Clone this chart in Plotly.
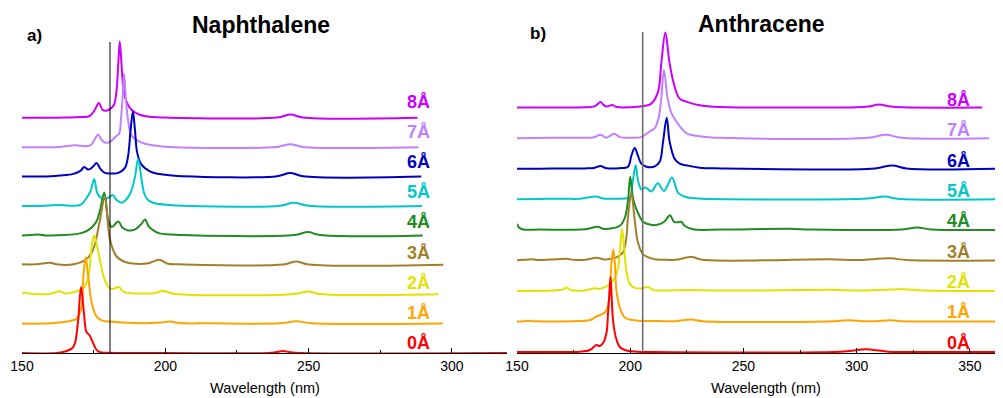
import plotly.graph_objects as go

# ---------------- data ----------------
# Each series: (wavelength in nm, intensity in a.u.) above its own baseline
# Naphthalene (panel a)
nap_0 = [(150, 0), (162, 0), (165.6, 2), (167.6, 5), (168.5, 10), (169.6, 33), (170.6, 66), (171.6, 40),
         (172.5, 21), (173.5, 18), (174.8, 10), (175.8, 4), (177, 1), (180, 0.2), (200, 0), (236, 0),
         (238.5, 0.8), (241, 2), (243.5, 0.8), (247, 0), (319.2, 0)]
nap_1 = [(150, 0), (160, 0.3), (165.6, 2), (169.1, 5), (170.8, 17), (171.4, 47), (172.2, 66), (173.1, 47),
         (174.3, 21), (176, 7), (178, 3), (180.7, 2), (185, 1), (195, 0.5), (198.5, 1), (201.6, 2), (205, 0.5),
         (215, 0.3), (240, 0.3), (245.7, 2.3), (251, 0.3), (296.8, 0)]
nap_2 = [(150, 0.5), (151, 1.5), (153, 0.5), (160, 0.5), (163.2, 3), (165, 0.8), (168, 2), (171.4, 6),
         (173.1, 17), (174.3, 47), (175.2, 59), (176.2, 48), (177.2, 34), (178.9, 14), (180.7, 5.7), (182, 5.5),
         (183.8, 7.3), (185, 3.5), (186.5, 1.3), (190, 0.8), (196, 1), (199.2, 3.3), (203, 0.5), (245, 0.3),
         (249.8, 2.7), (254, 0.3), (295.3, 0)]
nap_3 = [(150, 0.5), (155, 0.5), (159.8, 2), (162, 0.5), (168, 0.5), (172.2, 5), (174.8, 15), (177, 42),
         (178.9, 67), (180.7, 25), (183, 8.3), (186.5, 2.3), (190, 1), (194, 1.5), (197.8, 5), (201, 1),
         (205, 0.5), (241, 0.3), (245.7, 3.3), (250, 0.3), (297, 0)]
nap_4 = [(150, 0), (153, 0.3), (155.1, 1), (158, 0), (165, 0.3), (170.2, 2), (173, 5), (175.8, 13),
         (177.2, 25), (178.7, 43), (180.1, 15), (181.3, 8.3), (183.6, 14), (185, 8), (187, 5), (189.5, 6),
         (191.5, 11), (192.9, 16), (194.2, 9), (195.8, 5), (198, 2), (201.6, 1), (205, 0.3), (245, 0.3),
         (249.8, 3.3), (254, 0.3), (289.8, 0)]
nap_5 = [(150, 0), (158, 0.3), (163.2, 1), (170.4, 1), (172, 6), (173.8, 14), (175.2, 27), (176.4, 12),
         (178.5, 7), (180, 8), (181.6, 11), (183, 6), (184.7, 3.3), (186.5, 7), (188, 14), (189.4, 29),
         (190.5, 47), (191.7, 27), (192.7, 12), (194, 6), (196, 3), (201.6, 1), (206, 0.3), (240, 0.3),
         (244.9, 3.3), (250, 0.3), (289.6, 0)]
nap_6 = [(150, 0), (160, 0.3), (163.2, 1), (167.9, 2.7), (170.5, 6), (171.7, 9.7), (173.1, 7), (174.8, 10),
         (176, 13.7), (177.3, 8), (178.9, 3.7), (181, 3.2), (183.6, 3.7), (185.9, 8.7), (187, 20.3),
         (187.9, 47), (188.7, 65), (189.4, 47), (190.2, 23.7), (191.7, 12), (194.6, 5.3), (198, 2.5),
         (201.6, 1.3), (206, 0.3), (239, 0.3), (243.6, 3.7), (248, 0.3), (289.3, 0)]
nap_7 = [(150, 0), (163.2, 0.3), (168.5, 2), (172, 1), (174, 2), (175.2, 7), (176.6, 12.7), (177.8, 7),
         (178.9, 4.7), (180.7, 5.3), (182.4, 10), (183.9, 13.7), (184.5, 27), (185.1, 50), (185.6, 73.7),
         (186.2, 50), (187, 27), (188.2, 12), (191.1, 5.3), (195.6, 2), (201.6, 0.3), (239, 0.3),
         (243.6, 3), (248, 0.3), (288.3, 0)]
nap_8 = [(150, 0), (165, 0.3), (170.2, 0.7), (173.7, 2), (175.4, 8), (176.8, 14.7), (178.1, 8),
         (179.3, 7), (180.7, 8.7), (182.1, 13), (183, 28), (183.6, 54.7), (184.1, 76.3), (184.7, 54.7),
         (185.3, 31), (186.5, 16), (188.2, 8), (191.1, 3), (195.6, 0.7), (200, 0.2), (239, 0.3),
         (243.7, 3.3), (248, 0.3), (288, 0)]

# Anthracene (panel b)
ant_0 = [(150, 0), (175, 0), (177.8, 0.3), (182.2, 2), (185.1, 7), (186.5, 6), (188, 9), (189.5, 19),
         (190.2, 39), (190.7, 55), (191.3, 75), (191.8, 55), (192.4, 32), (193.6, 15), (195.4, 5),
         (198.3, 1.5), (203, 0.3), (210, 0), (290, 0), (296.7, 1), (304, 2.7), (310, 1.5), (314, 0.3),
         (320, 0), (364.6, 0)]
ant_1 = [(150, 0), (153, 0.3), (155, 0.7), (158, 0.2), (175, 0.3), (182.2, 1.5), (185.1, 5), (188.8, 9),
         (190.2, 16), (191, 31), (191.7, 58), (192.5, 72), (193.2, 58), (193.9, 31), (195.4, 14),
         (197.6, 4), (202.7, 1), (210, 0.5), (220, 0.3), (227, 2), (232, 0.3), (290, 0.3), (296.7, 1.3),
         (303, 0.3), (309, 0.3), (314.3, 1.3), (320, 0.3), (364.6, 0)]
ant_2 = [(150, 0), (165, 0.3), (170.5, 1.5), (171.9, 3.3), (173.5, 1), (180, 0.5), (184.4, 2.7), (186, 2),
         (188, 3), (191, 6.7), (193.2, 13), (194.6, 23), (195.4, 38), (196.4, 62), (197.3, 43),
         (198.3, 20), (199.8, 7), (202, 3), (205, 2.5), (207.8, 4), (210, 1), (215, 0.5), (226.2, 1),
         (240, 0.3), (291.6, 1), (300, 0.3), (320.2, 1.7), (330, 0.3), (364.6, 0)]
ant_3 = [(150, 0), (153, 0.5), (156.5, 1), (160, 0.3), (165, 0.8), (171.9, 1.5), (175, 0.5), (180, 0.5),
         (185.4, 2.7), (188, 1), (191, 1.5), (193.9, 3), (196.8, 8), (198.3, 23), (199, 43), (200.5, 67),
         (202, 40), (203.4, 18), (205.7, 6), (210, 1.5), (215, 0.5), (220, 0.5), (227.2, 3.3), (232, 0.5),
         (287.9, 1), (300, 0.3), (315, 2), (322, 0.3), (364.6, 0)]
ant_4 = [(150, 6), (151, 2), (152.7, 0.3), (160, 0.3), (180, 0.5), (185.8, 3), (188, 1), (192, 1.5),
         (195.4, 4), (197.6, 12), (199, 29), (200, 53), (201, 35), (202, 25), (203.4, 17), (205.7, 8),
         (209, 5), (212, 5), (215, 8), (217.5, 14.5), (219.3, 8), (221, 7.5), (222.5, 8), (224, 4),
         (227.7, 0.5), (240, 0.3), (270.3, 1), (280, 0.3), (320, 0.3), (326.8, 2.3), (333, 0.3), (364.6, 0)]
ant_5 = [(150, 0), (160, 0.3), (170, 0.5), (178, 0.5), (185.1, 2.7), (188, 0.8), (195, 0.5), (198.5, 1),
         (199.8, 2), (200.5, 7), (201.2, 18.5), (202.4, 34), (203.5, 18), (204.9, 10), (206.8, 11.7),
         (209.3, 7.7), (212.2, 16), (214.9, 8.3), (218.4, 21.5), (221.1, 6.7), (223.5, 3), (226, 1.5),
         (232, 0.5), (300, 0.3), (306, 1), (312.6, 2.7), (318, 0.5), (364.6, 0)]
ant_6 = [(150, 0), (160, 0), (170, 0.3), (180, 0.3), (184, 0.8), (186.9, 2.7), (189, 0.8), (195, 0.5),
         (199, 2), (200.5, 13), (202, 20.7), (203.4, 13), (204.9, 5), (207.1, 2), (209, 1.5), (210.8, 2.4),
         (213, 7), (214.5, 27), (216.1, 51), (217.4, 27), (219.6, 10), (221.8, 5), (224.7, 3.4),
         (230.6, 1), (240, 0.3), (308, 0.3), (315.8, 3.3), (322, 0.3), (361.3, 0)]
ant_7 = [(150, 0), (165, 0.3), (175, 0.5), (184, 1), (186.9, 3.3), (189.5, 0.5), (192.9, 4.4), (195.5, 1),
         (200, 0.5), (204.9, 1), (207, 4), (208.6, 6.7), (210.8, 10), (212.5, 20), (213.7, 40),
         (214.9, 68), (216.5, 40), (218.2, 25), (220.3, 17), (224.7, 5), (230.6, 2), (240, 0.3),
         (305, 0.3), (312.9, 3.3), (320, 0.3), (358.4, 0)]
ant_8 = [(150, 0), (170, 0), (180, 0.3), (184.5, 1.5), (186.9, 5.6), (188.3, 2.5), (189.5, 1), (192, 2.5),
         (194, 0.5), (200, 0.3), (205.7, 1.5), (209.3, 4), (212.3, 16), (213.7, 44), (215.5, 75),
         (217.4, 44), (219.6, 21), (221.8, 9), (224.7, 6), (230.6, 2.3), (240, 0.5), (252, 0.2),
         (300, 0.3), (305, 1), (309.9, 3), (315, 1), (320, 0.3), (355.4, 0)]

distance_labels = ["0Å", "1Å", "2Å", "3Å", "4Å", "5Å", "6Å", "7Å", "8Å"]
nap_series = [nap_0, nap_1, nap_2, nap_3, nap_4, nap_5, nap_6, nap_7, nap_8]
ant_series = [ant_0, ant_1, ant_2, ant_3, ant_4, ant_5, ant_6, ant_7, ant_8]
x_ticks = [150, 200, 250, 300, 350]
x_minor = [175, 225, 275, 325]
nap_marker_nm = 180.7
ant_marker_nm = 205.5

# ---------------- styling ----------------
colors = ["#ff0000", "#ffa500", "#e2e200", "#a0802a", "#228b22",
          "#00c8c8", "#0000c0", "#c080ff", "#cc00ff"]
FONT = "Liberation Sans, Arial, Helvetica, sans-serif"
OFF = 8                      # page body margin of the html page
FW, FH = 1003 - OFF, 398 - OFF
M_T, M_B = 17, 45
PH = FH - M_T - M_B
nap_step = 29.4
ant_step = 30.55


def px_x(x_win):
    return (x_win - OFF) / FW


def px_y(y_win):
    return (FH - M_B - (y_win - OFF)) / PH


fig = go.Figure()

for i in reversed(range(len(nap_series))):
    s = nap_series[i]
    fig.add_trace(go.Scatter(
        x=[p[0] for p in s], y=[p[1] + i * nap_step for p in s],
        mode="lines", line=dict(color=colors[i], width=2, shape="spline", smoothing=1.0),
        xaxis="x", yaxis="y", showlegend=False, hoverinfo="skip"))

for i in reversed(range(len(ant_series))):
    s = ant_series[i]
    fig.add_trace(go.Scatter(
        x=[p[0] for p in s], y=[p[1] + i * ant_step for p in s],
        mode="lines", line=dict(color=colors[i], width=2, shape="spline", smoothing=1.0),
        xaxis="x2", yaxis="y2", showlegend=False, hoverinfo="skip"))

axis_common = dict(
    showgrid=False, zeroline=False, showline=True, linecolor="black", linewidth=1,
    ticks="inside", ticklen=5, tickcolor="black", tickwidth=1, automargin=False,
    tickmode="array", tickvals=x_ticks,
    tickfont=dict(family=FONT, size=14, color="black"),
    minor=dict(tickmode="array", tickvals=x_minor, ticks="inside", ticklen=3, tickcolor="black"),
)

fig.update_layout(
    width=FW, height=FH,
    margin=dict(l=0, r=0, t=M_T, b=M_B, autoexpand=False),
    paper_bgcolor="white", plot_bgcolor="white",
    font=dict(family=FONT, color="black"),
    xaxis=dict(domain=[px_x(22), px_x(507)], range=[150, 319.2], anchor="y", **axis_common),
    xaxis2=dict(domain=[px_x(517), 1.0], range=[150, 364.6], anchor="y2", **axis_common),
    yaxis=dict(domain=[0, 1], range=[0, PH], visible=False, anchor="x"),
    yaxis2=dict(domain=[0, 1], range=[-1, PH - 1], visible=False, anchor="x2"),
)

# vertical marker lines
fig.add_shape(type="line", xref="x", yref="y", x0=nap_marker_nm, x1=nap_marker_nm, y0=0, y1=311,
              line=dict(color="black", width=1))
fig.add_shape(type="line", xref="x2", yref="y2", x0=ant_marker_nm, x1=ant_marker_nm, y0=0, y1=320,
              line=dict(color="#6e6e6e", width=1.6))

# distance labels (baseline rows in window pixels)
for i, lab in enumerate(distance_labels):
    fig.add_annotation(x=px_x(418), y=px_y(350.7 - i * 30.2 + 4.5), xref="paper", yref="paper",
                       text=f"<b>{lab}</b>", showarrow=False, xanchor="center", yanchor="bottom",
                       font=dict(family=FONT, size=18, color=colors[i]))
    fig.add_annotation(x=px_x(958), y=px_y(350 - i * 30.3 + 4.5), xref="paper", yref="paper",
                       text=f"<b>{lab}</b>", showarrow=False, xanchor="center", yanchor="bottom",
                       font=dict(family=FONT, size=18, color=colors[i]))

# titles and panel letters
fig.add_annotation(x=px_x(261), y=px_y(25.3), xref="paper", yref="paper", text="<b>Naphthalene</b>",
                   showarrow=False, xanchor="center", yanchor="middle", font=dict(family=FONT, size=23))
fig.add_annotation(x=px_x(761), y=px_y(23.8), xref="paper", yref="paper", text="<b>Anthracene</b>",
                   showarrow=False, xanchor="center", yanchor="middle", font=dict(family=FONT, size=23))
fig.add_annotation(x=px_x(34), y=px_y(35), xref="paper", yref="paper", text="<b>a)</b>",
                   showarrow=False, xanchor="center", yanchor="middle", font=dict(family=FONT, size=17))
fig.add_annotation(x=px_x(538), y=px_y(33.5), xref="paper", yref="paper", text="<b>b)</b>",
                   showarrow=False, xanchor="center", yanchor="middle", font=dict(family=FONT, size=17))

# axis titles
fig.add_annotation(x=px_x(264.5), y=px_y(388), xref="paper", yref="paper", text="Wavelength (nm)",
                   showarrow=False, xanchor="center", yanchor="middle", font=dict(family=FONT, size=14.5))
fig.add_annotation(x=px_x(766), y=px_y(388), xref="paper", yref="paper", text="Wavelength (nm)",
                   showarrow=False, xanchor="center", yanchor="middle", font=dict(family=FONT, size=14.5))

fig.write_html("out.html")
